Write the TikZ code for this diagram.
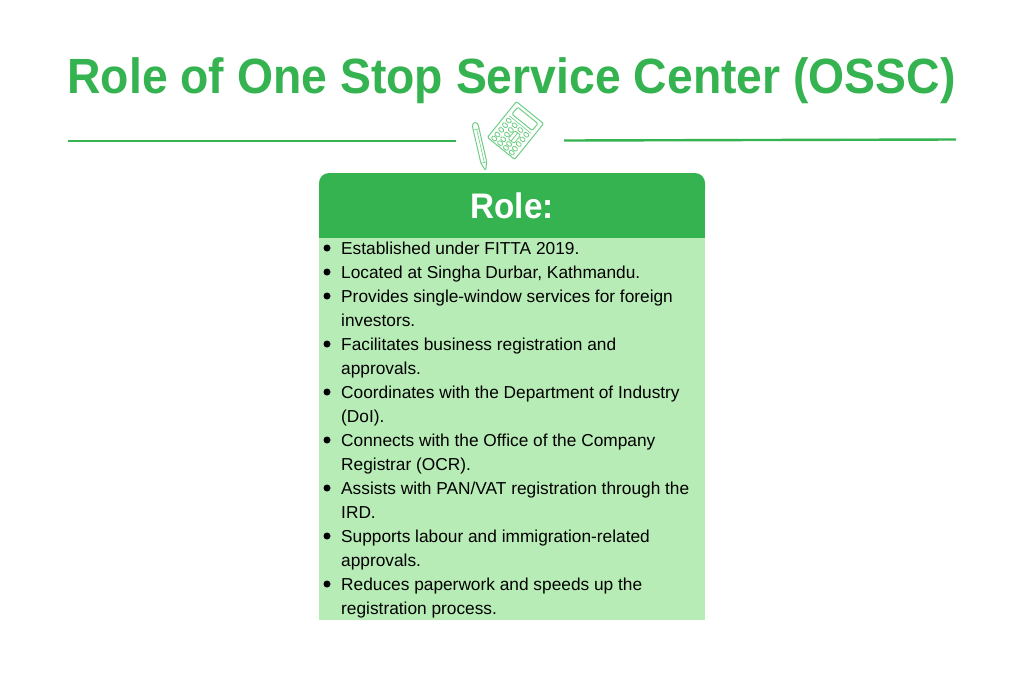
\documentclass[tikz,border=0pt]{standalone}
\usepackage{fontspec}
\setmainfont{Liberation Sans}
\newfontfamily\titlefont{Liberation Sans}[FakeStretch=0.936]
\definecolor{ossgreen}{HTML}{34B350}
\definecolor{osslight}{HTML}{B8ECB6}
\definecolor{ossicon}{HTML}{6FCF85}
\tikzset{
 bodyline/.style={anchor=base west,inner sep=0pt,font=\fontsize{17.3}{20}\selectfont},
 bul/.style={circle,fill=black,inner sep=0pt,minimum size=7pt},
 rule/.style={draw=ossgreen,line width=2.4pt},
 ic/.style={draw=ossicon,line width=1pt,rounded corners=1.2pt},
}
\begin{document}
\begin{tikzpicture}[x=1pt,y=-1pt]
\useasboundingbox (0,0) rectangle (1024,683);
\fill[white] (0,0) rectangle (1024,683);
\node[anchor=base,inner sep=0pt,text=ossgreen,font=\fontsize{49.5}{54}\selectfont\titlefont\bfseries] (title) at (511.5,93) {Role of One Stop Service Center (OSSC)};
\coordinate (la) at (68,141); \coordinate (lb) at (456,141);
\coordinate (ra) at (564,140.5); \coordinate (rb) at (956,139.5);
\draw[rule] (la) -- (lb);
\draw[rule] (ra) -- (rb);
% calculator
\begin{scope}[shift={(515.5,130.5)},rotate=-39]
\draw[ic] (-17.5,-23) rectangle (17.5,23);
\draw[ic] (-13,-19.5) rectangle (13,-10.5);
\draw[ic,line width=.6pt] (-14,-7.5) -- (14,-7.5);
\foreach \x in {-11.5,-4,3.5,11}{\foreach \y in {-3.5,2.5,8.5,14.5,19.5}{
 \draw[ic,line width=.8pt] (\x-2.6,\y-1.8) rectangle (\x+2.6,\y+1.8);}}
\draw[ic,fill=white,line width=.8pt] (-0.5,0.5) rectangle (7,11);
\draw[ic,line width=.8pt] (3.2,0.5) -- (3.2,11);
\end{scope}
% pencil
\begin{scope}[shift={(480,146)},rotate=13]
\draw[ic] (-3,-21) -- (-3,17) -- (0,25) -- (3,17) -- (3,-21) -- (1.5,-24) -- (-1.5,-24) -- cycle;
\draw[ic,line width=.6pt] (-3,-17) -- (3,-17);
\draw[ic,line width=.6pt] (0.5,-17) -- (0.5,17);
\draw[ic,line width=.6pt] (-3,17) -- (3,17);
\end{scope}
% card
\fill[ossgreen,rounded corners=10pt] (319,173) rectangle (705,200);
\fill[ossgreen] (319,185) rectangle (705,238);
\fill[osslight] (319,238) rectangle (705,620);
\node[anchor=base,inner sep=0pt,text=white,font=\fontsize{35.5}{40}\selectfont\titlefont\bfseries] (head) at (512,218) {Role:};
\foreach \nm/\yy in {a/248,b/272,c/296,d/344,e/392,f/440,g/488,h/536,i/584}{
 \node[bul] (b\nm) at (327,\yy) {};}
\foreach \nm/\yy/\tx in {
 l1/254/{Established under FITTA 2019.},
 l2/278/{Located at Singha Durbar, Kathmandu.},
 l3/302/{Provides single-window services for foreign},
 l4/326/{investors.},
 l5/350/{Facilitates business registration and},
 l6/374/{approvals.},
 l7/398/{Coordinates with the Department of Industry},
 l8/422/{(DoI).},
 l9/446/{Connects with the Office of the Company},
 l10/470/{Registrar (OCR).},
 l11/494/{Assists with PAN/VAT registration through the},
 l12/518/{IRD.},
 l13/542/{Supports labour and immigration-related},
 l14/566/{approvals.},
 l15/590/{Reduces paperwork and speeds up the},
 l16/614/{registration process.}}{
 \node[bodyline] (\nm) at (341,\yy) {\tx};}
\end{tikzpicture}
\end{document}
